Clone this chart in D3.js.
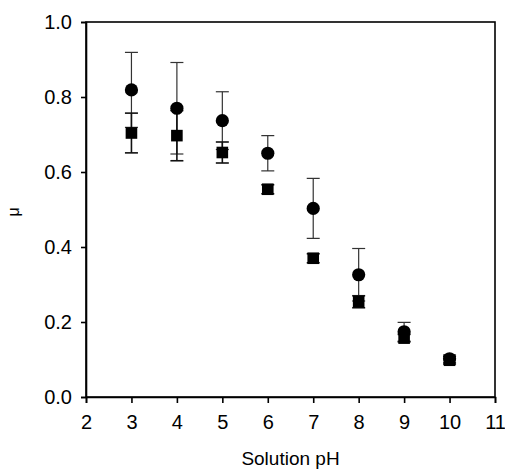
<!DOCTYPE html>
<html><head><meta charset="utf-8">
<script src="https://cdn.jsdelivr.net/npm/d3@7"></script>
<style>body{margin:0;background:#fff}svg{display:block}text{font-family:"Liberation Sans",Arial,sans-serif;fill:#000}</style>
</head><body>
<svg id="c" width="505" height="473"></svg>
<script>
const phValues = [3,4,5,6,7,8,9,10];
const circleMu = [0.819,0.770,0.737,0.650,0.503,0.326,0.174,0.102];
const circleErr = [0.100,0.122,0.077,0.047,0.080,0.070,0.025,0.010];
const squareMu = [0.704,0.697,0.652,0.554,0.370,0.254,0.157,0.098];
const squareErr = [0.053,0.067,0.028,0.012,0.012,0.016,0.010,0.010];
const xTicks = [2,3,4,5,6,7,8,9,10,11];
const yTicks = [0,0.2,0.4,0.6,0.8,1.0];

const svg = d3.select("#c");
const L=86, R=495, T=22, B=397;
const x = d3.scaleLinear().domain([2,11]).range([L,R]);
const y = d3.scaleLinear().domain([0,1]).range([B,T]);

// frame
svg.append("rect").attr("x",L).attr("y",T).attr("width",R-L).attr("height",B-T)
  .attr("fill","none").attr("stroke","#000").attr("stroke-width",1.6);

const xa = svg.append("g").attr("transform",`translate(0,${B})`)
  .call(d3.axisBottom(x).tickValues(xTicks).tickFormat(d3.format("d")).tickSize(6).tickPadding(12));
const ya = svg.append("g").attr("transform",`translate(${L},0)`)
  .call(d3.axisLeft(y).tickValues(yTicks).tickFormat(d3.format(".1f")).tickSize(5).tickPadding(9));
[xa,ya].forEach(a=>{
  a.attr("font-size",null).attr("font-family",null);
  a.select(".domain").attr("stroke","#000").attr("stroke-width",1.6);
  a.selectAll(".tick line").attr("stroke","#000").attr("stroke-width",1.6);
  a.selectAll(".tick text").style("font-size","20px").style("font-family","'Liberation Sans', Arial, sans-serif");
});

svg.append("text").attr("x",(L+R)/2).attr("y",465).attr("text-anchor","middle")
  .style("font-size","19px").text("Solution pH");
svg.append("text").attr("transform",`translate(19,212) rotate(-90)`)
  .attr("text-anchor","middle").style("font-size","16px").text("μ");

function errorBars(mu, err, color, sw){
  const g = svg.append("g").attr("stroke",color).attr("stroke-width",sw);
  phValues.forEach((p,i)=>{
    const cx=x(p), y1=y(mu[i]+err[i]), y0=y(mu[i]-err[i]);
    g.append("line").attr("x1",cx).attr("x2",cx).attr("y1",y1).attr("y2",y0);
    g.append("line").attr("x1",cx-6.5).attr("x2",cx+6.5).attr("y1",y1).attr("y2",y1);
    g.append("line").attr("x1",cx-6.5).attr("x2",cx+6.5).attr("y1",y0).attr("y2",y0);
  });
}
errorBars(circleMu, circleErr, "#333", 1.2);
errorBars(squareMu, squareErr, "#111", 1.6);

svg.append("g").selectAll("rect").data(phValues).join("rect")
  .attr("x",(d)=>x(d)-5.8).attr("y",(d,i)=>y(squareMu[i])-5.8)
  .attr("width",11.6).attr("height",11.6).attr("fill","#000");
svg.append("g").selectAll("circle").data(phValues).join("circle")
  .attr("cx",d=>x(d)).attr("cy",(d,i)=>y(circleMu[i])).attr("r",6.6).attr("fill","#000");
</script>
</body></html>
